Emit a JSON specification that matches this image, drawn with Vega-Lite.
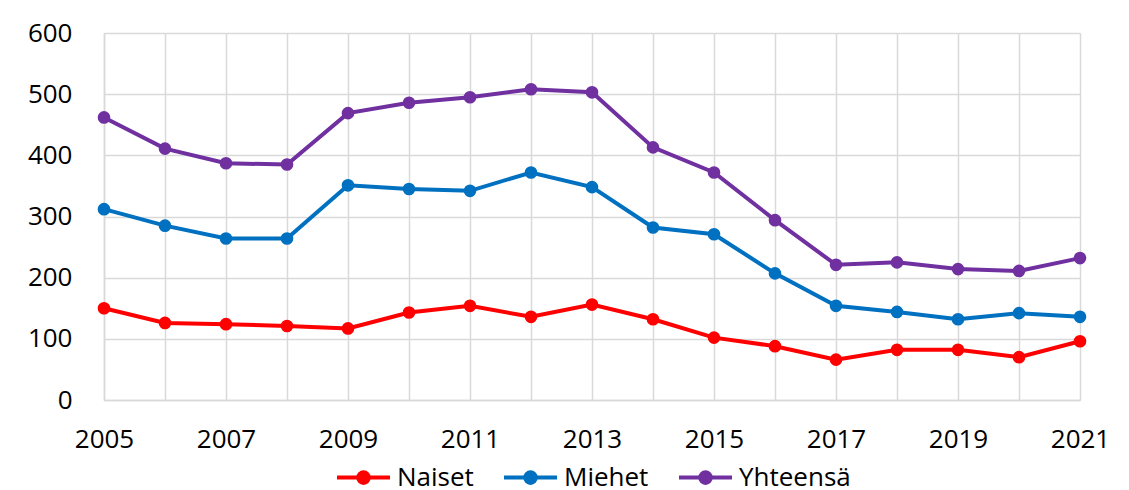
{
  "$schema": "https://vega.github.io/schema/vega-lite/v6.json",
  "width": 976,
  "height": 367,
  "autosize": {"type": "none"},
  "padding": {"left": 104, "top": 33, "right": 49, "bottom": 90},
  "background": "white",
  "config": {
    "font": "Open Sans",
    "view": {"stroke": null},
    "axis": {"labelFont": "Open Sans", "labelFontSize": 26, "labelColor": "#000000", "gridColor": "#D9D9D9", "gridWidth": 1.5, "domainColor": "#D9D9D9", "domainWidth": 1.5, "ticks": false, "title": null}
  },
  "datasets": {
    "rows": [
      {"year": 2005, "series": "Naiset", "value": 150},
      {"year": 2006, "series": "Naiset", "value": 126},
      {"year": 2007, "series": "Naiset", "value": 124},
      {"year": 2008, "series": "Naiset", "value": 121},
      {"year": 2009, "series": "Naiset", "value": 117},
      {"year": 2010, "series": "Naiset", "value": 143},
      {"year": 2011, "series": "Naiset", "value": 154},
      {"year": 2012, "series": "Naiset", "value": 136},
      {"year": 2013, "series": "Naiset", "value": 156},
      {"year": 2014, "series": "Naiset", "value": 132},
      {"year": 2015, "series": "Naiset", "value": 102},
      {"year": 2016, "series": "Naiset", "value": 88},
      {"year": 2017, "series": "Naiset", "value": 66},
      {"year": 2018, "series": "Naiset", "value": 82},
      {"year": 2019, "series": "Naiset", "value": 82},
      {"year": 2020, "series": "Naiset", "value": 70},
      {"year": 2021, "series": "Naiset", "value": 96},
      {"year": 2005, "series": "Miehet", "value": 312},
      {"year": 2006, "series": "Miehet", "value": 285},
      {"year": 2007, "series": "Miehet", "value": 264},
      {"year": 2008, "series": "Miehet", "value": 264},
      {"year": 2009, "series": "Miehet", "value": 351},
      {"year": 2010, "series": "Miehet", "value": 345},
      {"year": 2011, "series": "Miehet", "value": 342},
      {"year": 2012, "series": "Miehet", "value": 372},
      {"year": 2013, "series": "Miehet", "value": 348},
      {"year": 2014, "series": "Miehet", "value": 282},
      {"year": 2015, "series": "Miehet", "value": 271},
      {"year": 2016, "series": "Miehet", "value": 207},
      {"year": 2017, "series": "Miehet", "value": 154},
      {"year": 2018, "series": "Miehet", "value": 144},
      {"year": 2019, "series": "Miehet", "value": 132},
      {"year": 2020, "series": "Miehet", "value": 142},
      {"year": 2021, "series": "Miehet", "value": 136},
      {"year": 2005, "series": "Yhteensä", "value": 462},
      {"year": 2006, "series": "Yhteensä", "value": 411},
      {"year": 2007, "series": "Yhteensä", "value": 387},
      {"year": 2008, "series": "Yhteensä", "value": 385},
      {"year": 2009, "series": "Yhteensä", "value": 469},
      {"year": 2010, "series": "Yhteensä", "value": 486},
      {"year": 2011, "series": "Yhteensä", "value": 495},
      {"year": 2012, "series": "Yhteensä", "value": 508},
      {"year": 2013, "series": "Yhteensä", "value": 503},
      {"year": 2014, "series": "Yhteensä", "value": 413},
      {"year": 2015, "series": "Yhteensä", "value": 372},
      {"year": 2016, "series": "Yhteensä", "value": 294},
      {"year": 2017, "series": "Yhteensä", "value": 221},
      {"year": 2018, "series": "Yhteensä", "value": 225},
      {"year": 2019, "series": "Yhteensä", "value": 214},
      {"year": 2020, "series": "Yhteensä", "value": 211},
      {"year": 2021, "series": "Yhteensä", "value": 232}
    ]
  },
  "data": {"name": "rows"},
  "encoding": {
    "x": {
      "field": "year", "type": "quantitative",
      "scale": {"domain": [2005, 2021], "nice": false, "zero": false},
      "axis": {
        "values": [2005, 2006, 2007, 2008, 2009, 2010, 2011, 2012, 2013, 2014, 2015, 2016, 2017, 2018, 2019, 2020, 2021],
        "format": "d",
        "labelExpr": "datum.value % 2 == 1 ? datum.label : ''",
        "labelPadding": 26,
        "labelFlush": false,
        "labelOverlap": false
      }
    },
    "y": {
      "field": "value", "type": "quantitative",
      "scale": {"domain": [0, 600], "nice": false},
      "axis": {"values": [0, 100, 200, 300, 400, 500, 600], "labelPadding": 32, "labelFlush": false, "domain": true}
    },
    "color": {
      "field": "series", "type": "nominal",
      "scale": {"domain": ["Naiset", "Miehet", "Yhteensä"], "range": ["#FF0000", "#0070C0", "#7030A0"]},
      "legend": {
        "title": null,
        "orient": "none",
        "direction": "horizontal",
        "legendX": 231,
        "legendY": 416,
        "padding": 0,
        "labelFont": "Open Sans",
        "labelFontSize": 26,
        "labelColor": "#000000",
        "labelOffset": 5,
        "columnPadding": 22,
        "symbolType": "M-1,0L1,0M0.2,0A0.2,0.2,0,1,1,-0.2,0A0.2,0.2,0,1,1,0.2,0Z",
        "symbolSize": 2809,
        "symbolStrokeWidth": 4,
        "encode": {
          "symbols": {"update": {"fill": {"scale": "color", "field": "value"}, "stroke": {"scale": "color", "field": "value"}, "strokeWidth": {"value": 4}, "opacity": {"value": 1}, "fillOpacity": {"value": 1}}}
        }
      }
    }
  },
  "layer": [
    {"mark": {"type": "line", "strokeWidth": 4}},
    {"mark": {"type": "point", "filled": true, "size": 160, "opacity": 1}}
  ]
}
